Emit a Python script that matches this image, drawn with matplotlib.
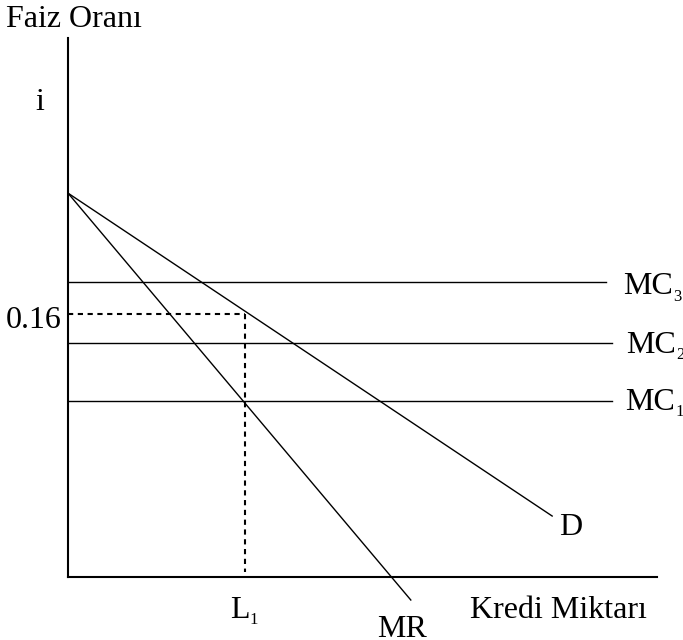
import matplotlib
matplotlib.use("Agg")
import matplotlib.pyplot as plt

plt.rcParams['font.family'] = ['Liberation Serif', 'DejaVu Serif']

# Curves (x: loan amount, arbitrary units; y: interest rate)
q_d = [0.0, 8.22]
i_d = [0.2336, 0.0371]
q_mr = [0.0, 5.82]
i_mr = [0.2336, -0.014]
mc_levels = [0.1071, 0.1424, 0.1795]
mc_ends = [9.24, 9.24, 9.13]
mc_names = ['1', '2', '3']
l1 = 3.0
i_star = 0.16

fig = plt.figure(figsize=(6.83, 6.40), dpi=100)
ax = fig.add_axes([68 / 683, 63 / 640, 589 / 683, 539 / 640])
ax.set_xlim(0, 10)
ax.set_ylim(0, 0.328)
for s in ['top', 'right']:
    ax.spines[s].set_visible(False)
for s in ['left', 'bottom']:
    ax.spines[s].set_linewidth(1.5)
ax.set_xticks([])
ax.set_yticks([])

lw = 1.0
ax.plot(q_d, i_d, color='black', lw=lw, clip_on=False)
ax.plot(q_mr, i_mr, color='black', lw=lw, clip_on=False)
for lvl, end in zip(mc_levels, mc_ends):
    ax.plot([0, end], [lvl, lvl], color='black', lw=lw, clip_on=False)

# dotted guides at the optimum
ax.plot([0, l1], [i_star, i_star], color='black', lw=1.5, dashes=(2.5, 2.2))
ax.plot([l1, l1], [i_star, 0.003], color='black', lw=1.5, dashes=(2.5, 2.2))

fs = 23
kw = dict(fontsize=fs, va='baseline', clip_on=False)
ax.text(-1.05, 0.3344, 'Faiz Oranı', ha='left', **kw)
ax.text(-0.475, 0.2839, 'i', ha='center', **kw)
ax.text(-0.10, 0.1514, '0.16', ha='right', **kw)
ax.text(8.34, 0.0255, 'D', ha='left', **kw)
ax.text(5.25, -0.0365, 'MR', ha='left', **kw)
ax.text(6.83, -0.0249, 'Kredi Miktarı', ha='left', **kw)

# labels with a small subscript
mc_label_x = [9.46, 9.48, 9.42]
mc_label_y = [0.1015, 0.1362, 0.172]
sub_labels = [('MC', n, x, y) for n, x, y in zip(mc_names, mc_label_x, mc_label_y)]
sub_labels.append(('L', '1', 2.75, -0.0249))

mains = []
for main, sub, x, y in sub_labels:
    mains.append((ax.text(x, y, main, ha='left', **kw), sub))
fig.canvas.draw()
renderer = fig.canvas.get_renderer()
for t, sub in mains:
    bb = t.get_window_extent(renderer)
    x0, y0 = t.get_position()
    xb, yb = ax.transData.transform((x0, y0))
    ax.annotate(sub, xy=(bb.x1 + 0.5, yb), xycoords='figure pixels',
                xytext=(0, -4.5), textcoords='offset points',
                fontsize=12, ha='left', va='baseline', annotation_clip=False)

fig.savefig('out.png', dpi=100)
